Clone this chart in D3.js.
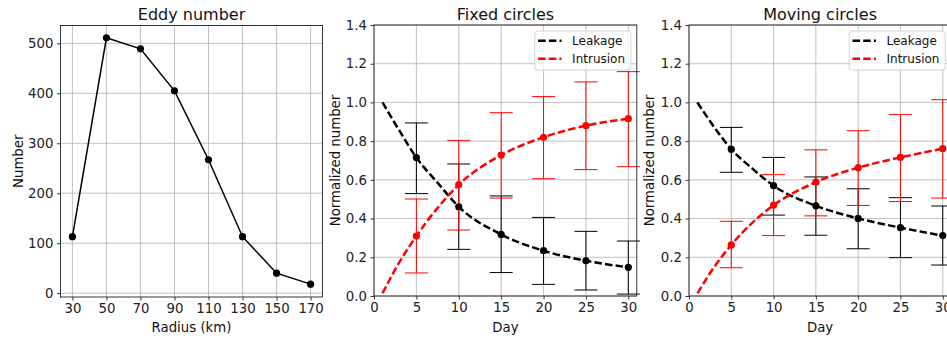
<!DOCTYPE html>
<html>
<head>
<meta charset="utf-8">
<script src="https://cdn.jsdelivr.net/npm/d3@7"></script>
<style>
  html, body { margin: 0; padding: 0; background: #fff; }
  svg { display: block; font-family: "DejaVu Sans", sans-serif; }
</style>
</head>
<body>
<svg id="chart" width="947" height="340"></svg>
<script>
// ---------- data ----------
const radiusKm = [30, 50, 70, 90, 110, 130, 150, 170];
const eddyCount = [113, 511, 489, 405, 267, 113, 40, 18];
const radiusTicks = [30, 50, 70, 90, 110, 130, 150, 170];
const countTicks = [0, 100, 200, 300, 400, 500];

const days = [5, 10, 15, 20, 25, 30];
const dayTicks = [0, 5, 10, 15, 20, 25, 30];
const normTicks = [0, 0.2, 0.4, 0.6, 0.8, 1.0, 1.2, 1.4];

const fixedLeak   = [0.715, 0.461, 0.318, 0.234, 0.182, 0.148];
const fixedLeakLo = [0.529, 0.241, 0.121, 0.060, 0.031, 0.010];
const fixedLeakHi = [0.894, 0.682, 0.517, 0.406, 0.334, 0.284];
const fixedIntr   = [0.310, 0.575, 0.728, 0.820, 0.880, 0.916];
const fixedIntrLo = [0.119, 0.341, 0.506, 0.606, 0.653, 0.668];
const fixedIntrHi = [0.501, 0.804, 0.947, 1.030, 1.106, 1.159];

const movLeak   = [0.758, 0.570, 0.466, 0.401, 0.353, 0.312];
const movLeakLo = [0.639, 0.418, 0.314, 0.244, 0.198, 0.160];
const movLeakHi = [0.871, 0.716, 0.615, 0.554, 0.508, 0.465];
const movIntr   = [0.264, 0.469, 0.588, 0.663, 0.716, 0.761];
const movIntrLo = [0.146, 0.312, 0.414, 0.468, 0.488, 0.506];
const movIntrHi = [0.386, 0.627, 0.755, 0.854, 0.937, 1.014];

const fitDays      = [1, 3, 5, 7.5, 10, 15, 20, 25, 30];
const fixedLeakFit = [1.0, 0.854, 0.715, 0.585, 0.461, 0.318, 0.234, 0.182, 0.148];
const fixedIntrFit = [0.014, 0.175, 0.310, 0.455, 0.575, 0.728, 0.820, 0.880, 0.916];
const movLeakFit   = [1.0, 0.871, 0.758, 0.658, 0.570, 0.466, 0.401, 0.353, 0.312];
const movIntrFit   = [0.014, 0.151, 0.264, 0.379, 0.469, 0.588, 0.663, 0.716, 0.761];

const seriesNames = ["Leakage", "Intrusion"];
const seriesColors = ["#000000", "#ff0000"];

// ---------- drawing ----------
const svg = d3.select("#chart");
const TOP = 25, BOTTOM = 296;
const FS = 13.3;
const GRID = "#b0b0b0";

function axes(g, x, y, xTicks, yTicks, yFmt) {
  // grid
  g.append("g").selectAll("line").data(xTicks).join("line")
    .attr("x1", d => x(d)).attr("x2", d => x(d))
    .attr("y1", y.range()[0]).attr("y2", y.range()[1])
    .attr("stroke", GRID).attr("stroke-width", 0.8);
  g.append("g").selectAll("line").data(yTicks).join("line")
    .attr("y1", d => y(d)).attr("y2", d => y(d))
    .attr("x1", x.range()[0]).attr("x2", x.range()[1])
    .attr("stroke", GRID).attr("stroke-width", 0.8);

  const xa = g.append("g").attr("transform", `translate(0,${y.range()[0]})`)
    .call(d3.axisBottom(x).tickValues(xTicks).tickSize(3.5).tickPadding(3.5).tickSizeOuter(0).tickFormat(d3.format("d")));
  const ya = g.append("g").attr("transform", `translate(${x.range()[0]},0)`)
    .call(d3.axisLeft(y).tickValues(yTicks).tickSize(3.5).tickPadding(3.5).tickSizeOuter(0).tickFormat(yFmt));
  [xa, ya].forEach(a => {
    a.select(".domain").remove();
    a.selectAll("line").attr("stroke", "#222").attr("stroke-width", 0.9);
    a.selectAll("text").attr("font-size", FS).attr("fill", "#222").attr("font-family", "DejaVu Sans");
  });
}

function frame(g, x, y) {
  g.append("rect")
    .attr("x", x.range()[0]).attr("y", y.range()[1])
    .attr("width", x.range()[1] - x.range()[0])
    .attr("height", y.range()[0] - y.range()[1])
    .attr("fill", "none").attr("stroke", "#222").attr("stroke-width", 0.9);
}

function labels(g, x, y, title, xlab, ylab, ylabX) {
  const cx = (x.range()[0] + x.range()[1]) / 2;
  g.append("text").attr("x", cx).attr("y", 20).attr("text-anchor", "middle")
    .attr("font-size", 16).attr("fill", "#111").text(title);
  g.append("text").attr("x", cx).attr("y", 332).attr("text-anchor", "middle")
    .attr("font-size", FS).attr("fill", "#111").text(xlab);
  const cy = (y.range()[0] + y.range()[1]) / 2;
  g.append("text").attr("transform", `translate(${ylabX},${cy}) rotate(-90)`)
    .attr("text-anchor", "middle").attr("font-size", FS).attr("fill", "#111").text(ylab);
}

// ---- panel 1 ----
{
  const g = svg.append("g");
  const x = d3.scaleLinear().domain([23, 177]).range([60.5, 322.5]);
  const y = d3.scaleLinear().domain([-7.7, 535.7]).range([297, 25.5]);
  axes(g, x, y, radiusTicks, countTicks, d3.format("d"));
  const pts = radiusKm.map((r, i) => [r, eddyCount[i]]);
  g.append("path").datum(pts)
    .attr("d", d3.line().x(d => x(d[0])).y(d => y(d[1])))
    .attr("fill", "none").attr("stroke", "#000").attr("stroke-width", 1.5);
  g.append("g").selectAll("circle").data(pts).join("circle")
    .attr("cx", d => x(d[0])).attr("cy", d => y(d[1])).attr("r", 3.6).attr("fill", "#000");
  frame(g, x, y);
  labels(g, x, y, "Eddy number", "Radius (km)", "Number", 22.5);
}

function panel(x0, x1, title, ylabX, series) {
  const g = svg.append("g");
  const x = d3.scaleLinear().domain([0, 31]).range([x0, x1]);
  const y = d3.scaleLinear().domain([0, 1.4]).range([BOTTOM, TOP]);
  axes(g, x, y, dayTicks, normTicks, d3.format(".1f"));

  const line = d3.line().x(d => x(d[0])).y(d => y(d[1])).curve(d3.curveMonotoneX);
  series.forEach((s, si) => {
    const col = seriesColors[si];
    const eb = g.append("g");
    days.forEach((dd, i) => {
      const xx = x(dd);
      eb.append("line").attr("x1", xx).attr("x2", xx)
        .attr("y1", y(s.lo[i])).attr("y2", y(s.hi[i]))
        .attr("stroke", col).attr("stroke-width", 1);
      [s.lo[i], s.hi[i]].forEach(v => {
        eb.append("line").attr("x1", xx - 11.5).attr("x2", xx + 11.5)
          .attr("y1", y(v)).attr("y2", y(v))
          .attr("stroke", col).attr("stroke-width", 1);
      });
    });
  });
  series.forEach((s, si) => {
    const col = seriesColors[si];
    g.append("path").datum(fitDays.map((d, i) => [d, s.fit[i]]))
      .attr("d", line).attr("fill", "none").attr("stroke", col)
      .attr("stroke-width", 2.5).attr("stroke-dasharray", "7.5,3.2");
    g.append("g").selectAll("circle").data(days.map((d, i) => [d, s.val[i]])).join("circle")
      .attr("cx", d => x(d[0])).attr("cy", d => y(d[1])).attr("r", 3.6).attr("fill", col);
  });
  frame(g, x, y);
  labels(g, x, y, title, "Day", "Normalized number", ylabX);

  // legend
  const bx = x1 - 102, by = 31, bw = 96, bh = 39;
  const lg = g.append("g");
  lg.append("rect").attr("x", bx).attr("y", by).attr("width", bw).attr("height", bh)
    .attr("rx", 3).attr("fill", "#fff").attr("fill-opacity", 0.8)
    .attr("stroke", "#d0d0d0").attr("stroke-width", 0.9);
  seriesNames.forEach((nm, i) => {
    const ry = by + 9.7 + i * 18;
    lg.append("line").attr("x1", bx + 3.3).attr("x2", bx + 26.7)
      .attr("y1", ry).attr("y2", ry).attr("stroke", seriesColors[i])
      .attr("stroke-width", 2.5).attr("stroke-dasharray", "7.5,3.2");
    lg.append("text").attr("x", bx + 37.3).attr("y", ry + 4.3)
      .attr("font-size", 12).attr("fill", "#111").text(nm);
  });
}

panel(374, 636.8, "Fixed circles", 339.5, [
  { val: fixedLeak, lo: fixedLeakLo, hi: fixedLeakHi, fit: fixedLeakFit },
  { val: fixedIntr, lo: fixedIntrLo, hi: fixedIntrHi, fit: fixedIntrFit }
]);
panel(689, 951.2, "Moving circles", 654, [
  { val: movLeak, lo: movLeakLo, hi: movLeakHi, fit: movLeakFit },
  { val: movIntr, lo: movIntrLo, hi: movIntrHi, fit: movIntrFit }
]);
</script>
</body>
</html>
